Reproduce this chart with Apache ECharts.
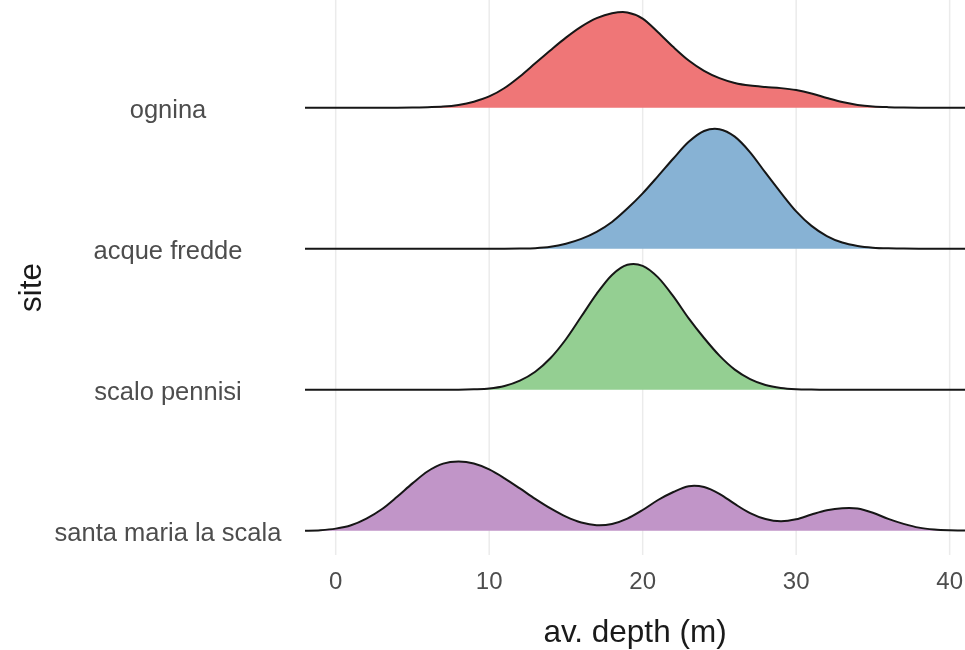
<!DOCTYPE html>
<html>
<head>
<meta charset="utf-8">
<script src="https://cdn.jsdelivr.net/npm/echarts@6/dist/echarts.min.js"></script>
<style>html,body{margin:0;padding:0;background:#fff}#c{width:965px;height:650px}</style>
</head>
<body>
<div id="c"></div>
<script>
// depth grid (m)
const depth = [-2,-1,0,1,2,3,4,5,6,7,8,9,10,11,12,13,14,15,16,17,18,19,20,21,22,23,24,25,26,27,28,29,30,31,32,33,34,35,36,37,38,39,40,41];
// ridge heights (in units of row spacing)
const ognina = [0,0,0,0,0,0,0.0007,0.0015,0.004,0.008,0.02,0.043,0.08,0.14,0.222,0.315,0.408,0.497,0.575,0.635,0.67,0.676,0.632,0.535,0.43,0.335,0.262,0.21,0.176,0.157,0.147,0.139,0.125,0.101,0.069,0.04,0.02,0.009,0.004,0.0015,0.0004,0,0,0];
const acqueFredde = [0,0,0,0,0,0,0,0,0,0,0,0,0,0,0.001,0.004,0.014,0.036,0.07,0.12,0.19,0.285,0.393,0.515,0.64,0.758,0.835,0.848,0.795,0.684,0.539,0.398,0.265,0.162,0.09,0.044,0.02,0.0077,0.0026,0.0009,0,0,0,0];
const scaloPennisi = [0,0,0,0,0,0,0,0,0,0,0,0.003,0.009,0.027,0.065,0.128,0.225,0.358,0.519,0.68,0.814,0.886,0.879,0.797,0.662,0.506,0.367,0.242,0.143,0.076,0.034,0.0125,0.0036,0.0009,0,0,0,0,0,0,0,0,0,0];
const santaMaria = [0,0.004,0.015,0.039,0.086,0.152,0.241,0.336,0.422,0.476,0.491,0.477,0.435,0.372,0.3,0.226,0.158,0.1,0.058,0.039,0.048,0.086,0.147,0.218,0.275,0.316,0.31,0.262,0.19,0.125,0.083,0.067,0.081,0.115,0.145,0.16,0.158,0.128,0.084,0.049,0.022,0.009,0.0034,0.0015];
const sites = ['santa maria la scala','scalo pennisi','acque fredde','ognina']; // bottom to top
const siteValues = [santaMaria, scaloPennisi, acqueFredde, ognina];
const xTicks = [0,10,20,30,40];
const fills = ['#C195C8','#94CF92','#87B2D4','#EF7677'];

const FONT = "'Liberation Sans', Arial, sans-serif";
const chart = echarts.init(document.getElementById('c'), null, {renderer:'canvas'});

const Y_MIN = -0.172, Y_MAX = 3.764;

// smooth ridge drawn through the axis scales (Catmull-Rom in pixel space)
function ridgeRender(i) {
  return function (params, api) {
    if (params.dataIndex !== 0) return null;
    const pts = [];
    for (let k = 0; k < depth.length; k++) {
      pts.push(api.coord([api.value(0, k), api.value(1, k)]));
    }
    const f = v => v.toFixed(2);
    let line = 'M' + f(pts[0][0]) + ' ' + f(pts[0][1]);
    for (let k = 0; k < pts.length - 1; k++) {
      const p0 = pts[Math.max(k - 1, 0)], p1 = pts[k], p2 = pts[k + 1], p3 = pts[Math.min(k + 2, pts.length - 1)];
      const c1x = p1[0] + (p2[0] - p0[0]) / 6, c1y = p1[1] + (p2[1] - p0[1]) / 6;
      const c2x = p2[0] - (p3[0] - p1[0]) / 6, c2y = p2[1] - (p3[1] - p1[1]) / 6;
      line += ' C' + f(c1x) + ' ' + f(c1y) + ' ' + f(c2x) + ' ' + f(c2y) + ' ' + f(p2[0]) + ' ' + f(p2[1]);
    }
    const b0 = api.coord([depth[0], i]), b1 = api.coord([depth[depth.length - 1], i]);
    const area = 'M' + f(b0[0]) + ' ' + f(b0[1]) + ' L' + line.slice(1) + ' L' + f(b1[0]) + ' ' + f(b1[1]) + ' Z';
    return {
      type: 'group',
      children: [
        {type: 'path', shape: {pathData: area}, style: {fill: fills[i], stroke: null, lineWidth: 0}},
        {type: 'path', shape: {pathData: line}, style: {fill: null, stroke: '#161616', lineWidth: 2, lineJoin: 'round'}}
      ]
    };
  };
}

const series = [];
// vertical grid lines at the major ticks
xTicks.forEach(v => series.push({
  type:'line', data:[[v, Y_MIN],[v, Y_MAX]], symbol:'none', silent:true, z:0,
  lineStyle:{color:'#EBEBEB', width:1.5}
}));
for (let i = sites.length-1; i >= 0; i--) {
  const vals = siteValues[i];
  series.push({
    name: sites[i], type:'custom', coordinateSystem:'cartesian2d', z:2, silent:true,
    encode:{x:0, y:1},
    data: depth.map((x,k)=>[x, i + vals[k]]),
    renderItem: ridgeRender(i)
  });
}

chart.setOption({
  animation:false,
  backgroundColor:'#fff',
  textStyle:{fontFamily:FONT},
  grid:{left:305, right:0, top:0, bottom:95, outerBoundsMode:'none', containLabel:false},
  xAxis:{type:'value', min:-2, max:41,
    name:'av. depth (m)', nameLocation:'middle', nameGap:62, nameMoveOverlap:false,
    nameTextStyle:{fontSize:31.5, color:'#1a1a1a', fontFamily:FONT},
    axisLine:{show:false}, axisTick:{show:false}, splitLine:{show:false},
    axisLabel:{customValues:xTicks, fontSize:24, color:'#4d4d4d', margin:15, fontFamily:FONT}
  },
  yAxis:{type:'value', min:Y_MIN, max:Y_MAX,
    name:'site', nameLocation:'middle', nameRotate:90, nameGap:257, nameMoveOverlap:false,
    nameTextStyle:{fontSize:31.5, color:'#1a1a1a', fontFamily:FONT, padding:[0,20,0,0]},
    axisLine:{show:false}, axisTick:{show:false}, splitLine:{show:false},
    axisLabel:{customValues:[-0.02,0.98,1.98,2.98], formatter:v=>sites[Math.round(v)], align:'center', margin:137,
      fontSize:25.5, color:'#4d4d4d', fontFamily:FONT}
  },
  series: series
});
</script>
</body>
</html>
